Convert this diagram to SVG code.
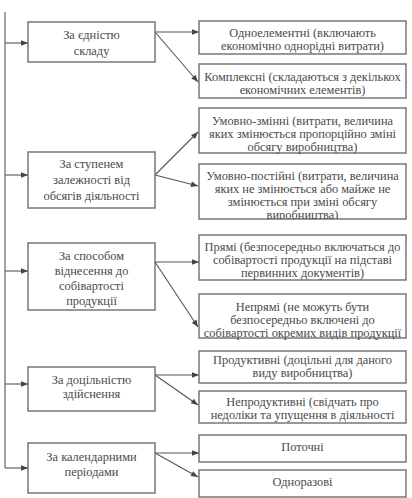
<svg xmlns="http://www.w3.org/2000/svg" width="412" height="498" viewBox="0 0 412 498">
<style>
.box{fill:#fff;stroke:#6e6e6e;stroke-width:1.4}
.t{font-family:'Liberation Serif','Times New Roman','DejaVu Serif',serif;font-size:12.4px;fill:#4a4a4a;text-anchor:middle}
.c{stroke:#555;stroke-width:1.1;fill:none}
.ca{stroke:#555;stroke-width:1.1;fill:none;marker-end:url(#ah)}
</style>
<defs>
<marker id="ah" viewBox="0 0 10 10" refX="10" refY="5" markerWidth="9" markerHeight="7" markerUnits="userSpaceOnUse" orient="auto">
<path d="M0,1 L10,5 L0,9 z" fill="#444"/>
</marker>
<clipPath id="clipR4"><rect x="199" y="164" width="207" height="55"/></clipPath>
</defs>
<rect width="412" height="498" fill="#fff"/>
<g id="connectors">
<path class="c" d="M5,12 V468"/>
<path class="ca" d="M5,43 H28"/>
<path class="ca" d="M5,175 H28"/>
<path class="ca" d="M5,271 H28"/>
<path class="ca" d="M5,384 H28"/>
<path class="ca" d="M5,468 H28"/>
<path class="ca" d="M155,32 L199,32"/>
<path class="ca" d="M155,32 L198,82"/>
<path class="ca" d="M155,175 L198,132"/>
<path class="ca" d="M155,175 L198,186"/>
<path class="ca" d="M155,262 L199,262"/>
<path class="ca" d="M155,262 L198,327"/>
<path class="ca" d="M155,375 L199,375"/>
<path class="ca" d="M155,375 L198,405"/>
<path class="ca" d="M155,453 L199,453"/>
<path class="ca" d="M155,453 L198,477"/>
</g>
<g id="L1"><rect class="box" x="28" y="22" width="127" height="40"/>
<text class="t" x="91.5" y="39" font-family="Liberation Serif">За єдністю</text><text class="t" x="91.5" y="55">складу</text></g>
<g id="L2"><rect class="box" x="28" y="152" width="127" height="56"/>
<text class="t" x="91.5" y="168">За ступенем</text><text class="t" x="91.5" y="184">залежності від</text><text class="t" x="91.5" y="200">обсягів діяльності</text></g>
<g id="L3"><rect class="box" x="28" y="243" width="127" height="67"/>
<text class="t" x="91.5" y="260">За способом</text><text class="t" x="91.5" y="275">віднесення до</text><text class="t" x="91.5" y="290">собівартості</text><text class="t" x="91.5" y="305">продукції</text></g>
<g id="L4"><rect class="box" x="28" y="367" width="127" height="44"/>
<text class="t" x="91.5" y="384">За доцільністю</text><text class="t" x="91.5" y="398">здійснення</text></g>
<g id="L5"><rect class="box" x="28" y="443" width="127" height="50"/>
<text class="t" x="91.5" y="461">За календарними</text><text class="t" x="91.5" y="476">періодами</text></g>
<g id="R1"><rect class="box" x="199" y="21" width="207" height="33"/>
<text class="t" x="302.5" y="37">Одноелементні (включають</text><text class="t" x="302.5" y="50">економічно однорідні витрати)</text></g>
<g id="R2"><rect class="box" x="199" y="64" width="207" height="34"/>
<text class="t" x="302.5" y="81">Комплексні (складаються з декількох</text><text class="t" x="302.5" y="94">економічних елементів)</text></g>
<g id="R3"><rect class="box" x="199" y="108" width="207" height="45"/>
<text class="t" x="302.5" y="125">Умовно-змінні (витрати, величина</text><text class="t" x="302.5" y="138">яких змінюється пропорційно зміні</text><text class="t" x="302.5" y="151">обсягу виробництва)</text></g>
<g id="R4"><rect class="box" x="199" y="164" width="207" height="55"/>
<text class="t" x="302.5" y="180">Умовно-постійні (витрати, величина</text><text class="t" x="302.5" y="193">яких не змінюється або майже не</text><text class="t" x="302.5" y="206">змінюється при зміні обсягу</text><text class="t" x="302.5" y="219" clip-path="url(#clipR4)">виробництва)</text></g>
<g id="R5"><rect class="box" x="199" y="235" width="207" height="45"/>
<text class="t" x="302.5" y="251">Прямі (безпосередньо включаться до</text><text class="t" x="302.5" y="264">собівартості продукції на підставі</text><text class="t" x="302.5" y="277">первинних документів)</text></g>
<g id="R6"><rect class="box" x="199" y="294" width="207" height="44"/>
<text class="t" x="302.5" y="311">Непрямі (не можуть бути</text><text class="t" x="302.5" y="324">безпосередньо включені до</text><text class="t" x="302.5" y="337">собівартості окремих видів продукції</text></g>
<g id="R7"><rect class="box" x="199" y="351" width="207" height="32"/>
<text class="t" x="302.5" y="364">Продуктивні (доцільні для даного</text><text class="t" x="302.5" y="377">виду виробництва)</text></g>
<g id="R8"><rect class="box" x="199" y="391" width="207" height="32"/>
<text class="t" x="302.5" y="406">Непродуктивні  (свідчать про</text><text class="t" x="302.5" y="419">недоліки та упущення в діяльності</text></g>
<g id="R9"><rect class="box" x="199" y="435" width="207" height="27"/>
<text class="t" x="302.5" y="451">Поточні</text></g>
<g id="R10"><rect class="box" x="199" y="470" width="207" height="27"/>
<text class="t" x="302.5" y="486">Одноразові</text></g>
</svg>
